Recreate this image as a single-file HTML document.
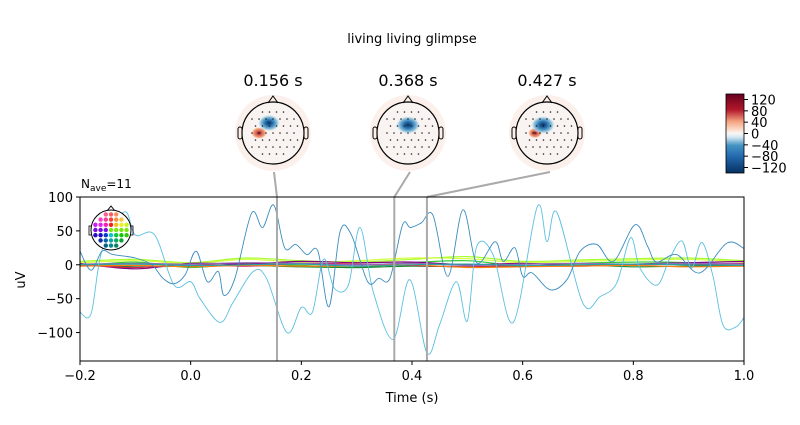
<!DOCTYPE html>
<html><head><meta charset="utf-8"><style>
body{margin:0;background:#fff;}
svg{font-family:"DejaVu Sans","Liberation Sans",sans-serif;}
</style></head><body>
<svg width="800" height="420" viewBox="0 0 800 420" id="root">
<defs>
<radialGradient id="halo" cx="50%" cy="50%" r="50%"><stop offset="75%" stop-color="#fbefea"/><stop offset="100%" stop-color="#f9e8e0" stop-opacity="0.6"/></radialGradient>
<radialGradient id="blue" cx="50%" cy="50%" r="50%"><stop offset="0%" stop-color="#053061"/><stop offset="40%" stop-color="#2f79b5"/><stop offset="75%" stop-color="#92c5de"/><stop offset="100%" stop-color="#d1e5f0" stop-opacity="0"/></radialGradient>
<radialGradient id="red" cx="50%" cy="50%" r="50%"><stop offset="0%" stop-color="#67001f"/><stop offset="35%" stop-color="#d6604d"/><stop offset="75%" stop-color="#f4a582"/><stop offset="100%" stop-color="#fddbc7" stop-opacity="0"/></radialGradient>
<linearGradient id="cbar" x1="0" y1="1" x2="0" y2="0">
<stop offset="0%" stop-color="#053061"/><stop offset="20%" stop-color="#2166ac"/><stop offset="35%" stop-color="#4393c3"/><stop offset="45%" stop-color="#d1e5f0"/><stop offset="50%" stop-color="#f7f7f7"/><stop offset="55%" stop-color="#fddbc7"/><stop offset="65%" stop-color="#f4a582"/><stop offset="80%" stop-color="#b2182b"/><stop offset="100%" stop-color="#67001f"/></linearGradient>
<clipPath id="plotclip"><rect x="80" y="197" width="664" height="164"/></clipPath>
</defs>
<text x="412" y="43" font-size="13" text-anchor="middle">living living glimpse</text>
<g id="topos"></g>
<g>
<rect x="726" y="94" width="18" height="79" fill="url(#cbar)" stroke="#000" stroke-width="0.8"/>
<g font-size="13" id="cbticks"></g>
</g>
<text x="81" y="188" font-size="12">N<tspan font-size="9" dy="3">ave</tspan><tspan dy="-3">=11</tspan></text>
<g id="connectors"></g>
<g clip-path="url(#plotclip)" id="traces"></g>
<g id="vlines"></g>
<rect x="80" y="197" width="664" height="164" fill="none" stroke="#000" stroke-width="1"/>
<g id="axes" font-size="13"></g>
<text x="412" y="402" font-size="13" text-anchor="middle">Time (s)</text>
<text x="25" y="280" font-size="13" text-anchor="middle" transform="rotate(-90 25 280)">uV</text>
<g id="sensorinset"></g>
</svg>
<script>
const xTicks=[-0.2,0.0,0.2,0.4,0.6,0.8,1.0];
const xTickLabels=["\u22120.2","0.0","0.2","0.4","0.6","0.8","1.0"];
const yTicks=[100,50,0,-50,-100];
const yTickLabels=["100","50","0","\u221250","\u2212100"];
const topoTimes=[0.156,0.368,0.427];
const topoLabels=["0.156 s","0.368 s","0.427 s"];
const cbTicks=[120,80,40,0,-40,-80,-120];
const cbLabels=["120","80","40","0","\u221240","\u221280","\u2212120"];
const darkT=[-0.2,-0.18,-0.16,-0.14,-0.1,-0.07,-0.05,-0.03,-0.01,0.01,0.03,0.05,0.06,0.08,0.11,0.13,0.15,0.17,0.19,0.21,0.23,0.25,0.27,0.29,0.32,0.34,0.36,0.383,0.397,0.417,0.438,0.465,0.492,0.517,0.55,0.565,0.586,0.6,0.617,0.65,0.68,0.704,0.734,0.764,0.803,0.826,0.842,0.878,0.92,0.969,1.0];
const darkV=[20,-8,20,15,10,0,-20,-28,-15,20,-25,-10,-45,-20,76,55,88,25,30,15,20,-62,49,45,-25,-20,-20,59,55,62,73,-17,81,3,34,5,25,-17,-12,-37,-22,20,30,5,59,27,4,15,-12,32,24];
const lightT=[-0.2,-0.18,-0.16,-0.12,-0.1,-0.065,-0.03,0.0,0.017,0.053,0.077,0.113,0.137,0.174,0.2,0.22,0.24,0.26,0.285,0.306,0.33,0.366,0.396,0.427,0.45,0.48,0.5,0.517,0.547,0.583,0.626,0.644,0.662,0.709,0.74,0.77,0.795,0.812,0.843,0.866,0.888,0.905,0.924,0.944,0.962,0.985,1.0];
const lightV=[-70,-72,22,78,44,44,-30,-25,-50,-85,-55,-10,-20,-100,-63,-70,8,-35,-30,55,-40,-110,-22,-130,-88,-25,-83,27,14,-85,85,34,77,-57,-47,-27,40,-5,-30,10,35,-5,33,-17,-89,-92,-78];
const smallT=[-0.2,-0.1,0.0,0.1,0.2,0.3,0.4,0.5,0.6,0.7,0.8,0.9,1.0];
const smallSeries=[
 ["#a6ff2a",[5,8,3,10,6,4,8,12,5,7,9,10,6]],
 ["#d4ff40",[3,6,2,8,4,6,10,9,3,5,7,8,4]],
 ["#33cc33",[-2,4,-4,2,-1,-4,3,6,-2,2,4,3,-2]],
 ["#1a8a2a",[1,-3,-2,-1,-3,-4,-2,-3,-2,0,-3,-2,-1]],
 ["#800080",[2,-6,2,1,5,3,4,0,2,-1,1,3,5]],
 ["#cc2255",[0,-4,1,-2,2,1,-1,-3,-1,-2,0,1,2]],
 ["#ff7f0e",[-2,-1,-3,-1,-2,-2,0,-4,-3,-2,-1,-3,-2]],
 ["#9467bd",[1,2,1,3,2,0,2,-1,1,2,1,2,1]],
 ["#2ca0a0",[0,1,-1,0,1,-2,0,1,-1,0,1,0,-1]]
];
const NS="http://www.w3.org/2000/svg";
const X0=80,X1=744,Y0=197,Y1=361,TMIN=-0.2,TMAX=1.0,VMAX=100,VMIN=-142;
function xs(t){return X0+(t-TMIN)/(TMAX-TMIN)*(X1-X0);}
function ys(v){return Y0+(VMAX-v)/(VMAX-VMIN)*(Y1-Y0);}
function mk(tag,attrs,parent){const e=document.createElementNS(NS,tag);for(const k in attrs)e.setAttribute(k,attrs[k]);parent.appendChild(e);return e;}
function smooth(T,V){const p=T.map((t,i)=>[xs(t),ys(V[i])]);let d="M"+p[0][0]+","+p[0][1];
 for(let i=0;i<p.length-1;i++){const p0=p[i-1]||p[i],p1=p[i],p2=p[i+1],p3=p[i+2]||p2;
  const c1=[p1[0]+(p2[0]-p0[0])/6,p1[1]+(p2[1]-p0[1])/6],c2=[p2[0]-(p3[0]-p1[0])/6,p2[1]-(p3[1]-p1[1])/6];
  d+=" C"+c1[0].toFixed(1)+","+c1[1].toFixed(1)+" "+c2[0].toFixed(1)+","+c2[1].toFixed(1)+" "+p2[0].toFixed(1)+","+p2[1].toFixed(1);}
 return d;}
const tr=document.getElementById('traces');
smallSeries.forEach((s,i)=>{const e=mk('path',{d:smooth(smallT,s[1]),fill:'none',stroke:s[0],'stroke-width':1.2},tr);

});
let e1=mk('path',{d:smooth(lightT,lightV),fill:'none',stroke:'#5bbfe0','stroke-width':0.9},tr);


let e2=mk('path',{d:smooth(darkT,darkV),fill:'none',stroke:'#3a8cbf','stroke-width':0.9},tr);


const ax=document.getElementById('axes');
xTicks.forEach((t,i)=>{mk('line',{x1:xs(t),x2:xs(t),y1:Y1,y2:Y1+4,stroke:'#000'},ax);
 const tx=mk('text',{x:xs(t),y:Y1+19,'text-anchor':'middle'},ax);tx.textContent=xTickLabels[i];
 
 });
yTicks.forEach((v,i)=>{mk('line',{x1:X0-4,x2:X0,y1:ys(v),y2:ys(v),stroke:'#000'},ax);
 const tx=mk('text',{x:X0-7,y:ys(v)+5,'text-anchor':'end'},ax);tx.textContent=yTickLabels[i];
 
 });
// topomaps
const topoCx=[273,408,547],topoCy=133;
const tg=document.getElementById('topos'),cn=document.getElementById('connectors'),vl=document.getElementById('vlines');
const blobs=[[[-14,0,'red',8],[ -4,-10,'blue',11]],[[0,-8,'blue',12]],[[-12,0,'red',7],[-4,-8,'blue',12]]];
topoTimes.forEach((t,i)=>{const cx=topoCx[i],g=mk('g',{},tg);
 
 
 const lb=mk('text',{x:cx,y:86,'font-size':16,'text-anchor':'middle'},tg);lb.textContent=topoLabels[i];
 
 
 mk('circle',{cx:cx,cy:topoCy,r:38,fill:'url(#halo)'},g);
 mk('circle',{cx:cx,cy:topoCy,r:31,fill:'#f9f4f2'},g);
 blobs[i].forEach(b=>mk('ellipse',{cx:cx+b[0],cy:topoCy+b[1],rx:b[3],ry:b[3]*0.75,fill:'url(#'+b[2]+')'},g));
 mk('path',{d:`M${cx-5},${topoCy-30} L${cx},${topoCy-37} L${cx+5},${topoCy-30}`,fill:'none',stroke:'#000','stroke-width':1},g);
 mk('rect',{x:cx-35,y:topoCy-6,width:4,height:12,rx:2,fill:'none',stroke:'#000','stroke-width':1},g);
 mk('rect',{x:cx+31,y:topoCy-6,width:4,height:12,rx:2,fill:'none',stroke:'#000','stroke-width':1},g);
 mk('circle',{cx:cx,cy:topoCy,r:31,fill:'none',stroke:'#000','stroke-width':1.2},g);
 for(let r=-3;r<=3;r++)for(let c=-3;c<=3;c++){const px=cx+c*7+(r%2?3.5:0),py=topoCy+r*7;
  if((px-cx)**2+(py-topoCy)**2<27*27)mk('circle',{cx:px,cy:py,r:0.8,fill:'#222'},g);}
 const x=xs(t);
 mk('line',{x1:x,x2:x,y1:Y0,y2:Y1,stroke:'#aaa','stroke-width':2},vl);
 const tx=[274,410,550][i];
 mk('line',{x1:tx,y1:172,x2:x,y2:Y0,stroke:'#aaa','stroke-width':2},cn);
});
const cb=document.getElementById('cbticks');
cbTicks.forEach((v,i)=>{const y=133.5-v/120*34;mk('line',{x1:744,x2:748,y1:y,y2:y,stroke:'#000'},cb);
 const tx=mk('text',{x:751,y:y+5},cb);tx.textContent=cbLabels[i];
 
 });
// sensor inset
const si=document.getElementById('sensorinset'),scx=111,scy=230;
mk('path',{d:`M${scx-4},${scy-19} L${scx},${scy-24} L${scx+4},${scy-19}`,fill:'none',stroke:'#000'},si);
mk('rect',{x:scx-22,y:scy-4,width:3,height:9,fill:'none',stroke:'#000','stroke-width':0.8},si);
mk('rect',{x:scx+19,y:scy-4,width:3,height:9,fill:'none',stroke:'#000','stroke-width':0.8},si);
mk('circle',{cx:scx,cy:scy,r:20,fill:'#fff',stroke:'#000','stroke-width':1},si);
for(let r=-3;r<=3;r++)for(let c=-3;c<=3;c++){const dx=c*5.2,dy=r*5.2;if(dx*dx+dy*dy<18*18){
 const h=(Math.atan2(dy,dx)*180/Math.PI+360+90)%360,l=70-(dy+18)/36*45;
 mk('circle',{cx:scx+dx,cy:scy+dy,r:2.2,fill:`hsl(${h},90%,${l}%)`},si);}}
</script>
</body></html>
